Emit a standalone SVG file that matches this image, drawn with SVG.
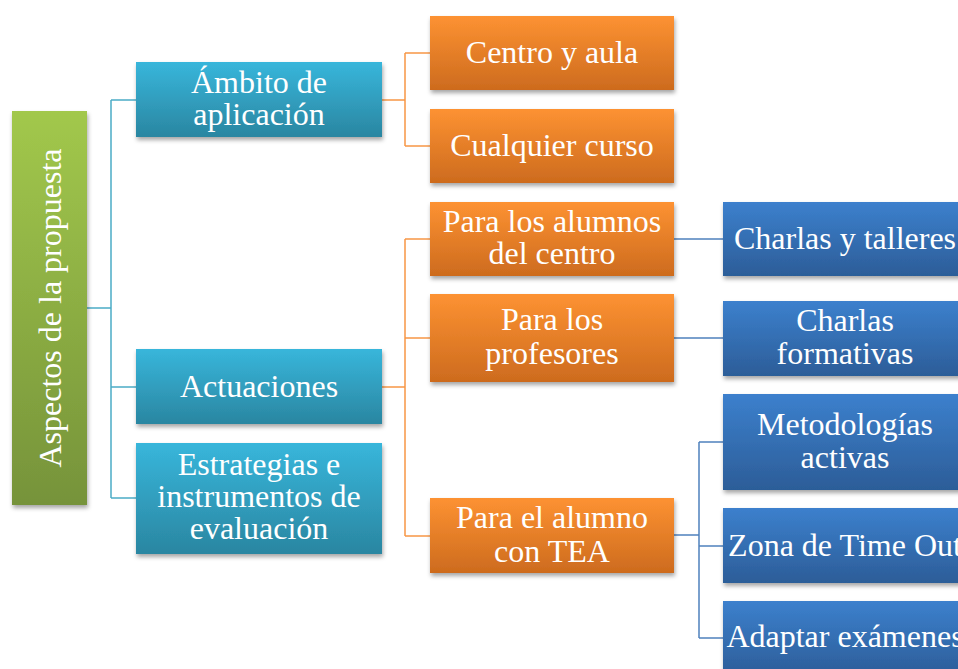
<svg xmlns="http://www.w3.org/2000/svg" width="958" height="669" viewBox="0 0 958 669">
<defs>
<linearGradient id="gGreen" x1="0" y1="0" x2="0" y2="1"><stop offset="0" stop-color="#a2c84c"/><stop offset="1" stop-color="#76933a"/></linearGradient>
<linearGradient id="gCyan" x1="0" y1="0" x2="0" y2="1"><stop offset="0" stop-color="#38b6db"/><stop offset="1" stop-color="#2a86a1"/></linearGradient>
<linearGradient id="gOrange" x1="0" y1="0" x2="0" y2="1"><stop offset="0" stop-color="#fd9232"/><stop offset="1" stop-color="#cd6b1e"/></linearGradient>
<linearGradient id="gBlue" x1="0" y1="0" x2="0" y2="1"><stop offset="0" stop-color="#3c80cd"/><stop offset="1" stop-color="#2c5d98"/></linearGradient>
<filter id="sh" x="-10%" y="-20%" width="130%" height="150%"><feDropShadow dx="1" dy="3" stdDeviation="2" flood-color="#000" flood-opacity="0.35"/></filter>
</defs>
<style>
.t{font-family:"Liberation Serif","Times New Roman",serif;font-size:32px;fill:#fff;text-anchor:middle}
.box{filter:url(#sh)}
.c1{fill:none;stroke:#4bacc6;stroke-width:1.5}
.c2{fill:none;stroke:#f79646;stroke-width:1.5}
.c3{fill:none;stroke:#4f81bd;stroke-width:1.5}
</style>
<g id="connectors">
<path class="c1" d="M87 308H111M111 100V498M111 100H136M111 387H136M111 498H136"/>
<path class="c2" d="M382 100H405M405 53V146M405 53H430M405 146H430"/>
<path class="c2" d="M382 387H405M405 239V536M405 239H430M405 338H430M405 536H430"/>
<path class="c3" d="M674 239H723M674 338H723"/>
<path class="c3" d="M674 535H699M699 442V638M699 442H723M699 546H723M699 638H723"/>
</g>
<g id="root"><rect class="box" x="12" y="111" width="75" height="394" fill="url(#gGreen)"/>
<text class="t" transform="translate(61 308) rotate(-90)" x="0" y="0">Aspectos de la propuesta</text></g>
<g id="ambito"><rect class="box" x="136" y="62" width="246" height="75" fill="url(#gCyan)"/>
<text class="t"><tspan x="259" y="92.5">Ámbito de</tspan><tspan x="259" y="125">aplicación</tspan></text></g>
<g id="actuaciones"><rect class="box" x="136" y="349" width="246" height="75" fill="url(#gCyan)"/>
<text class="t" x="259" y="397">Actuaciones</text></g>
<g id="estrategias"><rect class="box" x="136" y="443" width="246" height="111" fill="url(#gCyan)"/>
<text class="t"><tspan x="259" y="475">Estrategias e</tspan><tspan x="259" y="507">instrumentos de</tspan><tspan x="259" y="539">evaluación</tspan></text></g>
<g id="centro"><rect class="box" x="430" y="16" width="244" height="74" fill="url(#gOrange)"/>
<text class="t" x="552" y="63">Centro y aula</text></g>
<g id="curso"><rect class="box" x="430" y="109" width="244" height="74" fill="url(#gOrange)"/>
<text class="t" x="552" y="156">Cualquier curso</text></g>
<g id="alumnos"><rect class="box" x="430" y="202" width="244" height="74" fill="url(#gOrange)"/>
<text class="t"><tspan x="552" y="232">Para los alumnos</tspan><tspan x="552" y="264">del centro</tspan></text></g>
<g id="profesores"><rect class="box" x="430" y="294" width="244" height="88" fill="url(#gOrange)"/>
<text class="t"><tspan x="552" y="330">Para los</tspan><tspan x="552" y="364">profesores</tspan></text></g>
<g id="tea"><rect class="box" x="430" y="498" width="244" height="75" fill="url(#gOrange)"/>
<text class="t"><tspan x="552" y="528">Para el alumno</tspan><tspan x="552" y="562">con TEA</tspan></text></g>
<g id="charlas"><rect class="box" x="723" y="202" width="245" height="74" fill="url(#gBlue)"/>
<text class="t" x="845" y="249">Charlas y talleres</text></g>
<g id="formativas"><rect class="box" x="723" y="301" width="245" height="75" fill="url(#gBlue)"/>
<text class="t"><tspan x="845" y="331">Charlas</tspan><tspan x="845" y="364">formativas</tspan></text></g>
<g id="metodologias"><rect class="box" x="723" y="394" width="245" height="96" fill="url(#gBlue)"/>
<text class="t"><tspan x="845" y="435">Metodologías</tspan><tspan x="845" y="468">activas</tspan></text></g>
<g id="timeout"><rect class="box" x="723" y="508" width="245" height="75" fill="url(#gBlue)"/>
<text class="t" x="845" y="556">Zona de Time Out</text></g>
<g id="examenes"><rect class="box" x="723" y="601" width="245" height="75" fill="url(#gBlue)"/>
<text class="t" x="845" y="647">Adaptar exámenes</text></g>
</svg>
